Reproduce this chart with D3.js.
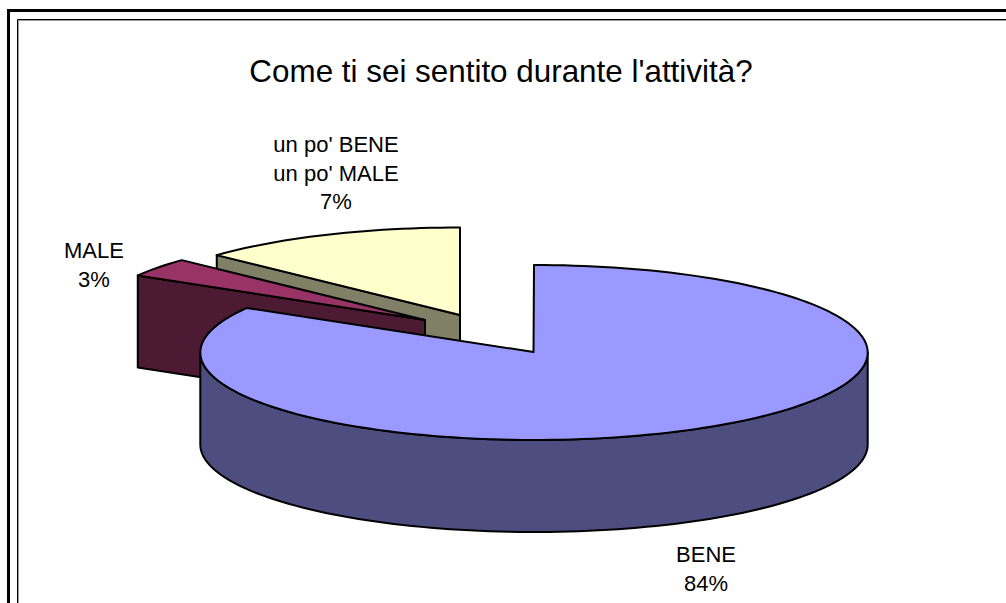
<!DOCTYPE html>
<html>
<head>
<meta charset="utf-8">
<script src="https://cdn.jsdelivr.net/npm/d3@7"></script>
<style>
  html, body { margin: 0; padding: 0; background: #fff; overflow: hidden; }
  svg { display: block; }
  text { font-family: "Liberation Sans", Arial, sans-serif; fill: #000; }
</style>
</head>
<body>
<svg id="svg" width="1006" height="603"></svg>
<script>
var title = "Come ti sei sentito durante l'attività?";
var categories = ["BENE", "MALE", "un po' BENE\nun po' MALE"];
var shares = [83.5, 3.5, 13];
var percentLabels = ["84%", "3%", "7%"];
var topColors = ["#9999ff", "#993366", "#ffffcc"];
var wallColors = ["#4d4d80", "#4d1a33", "#808066"];

var width = 1006, height = 603;
var rx = 333.7, ry = 87.5, depth = 92;

// where each slice's apex sits on the page (the two small ones are pulled out)
var apex = [{x: 533.5, y: 352}, {x: 425, y: 320}, {x: 460, y: 315}];
var rimCentre = [{x: 534, y: 352.5}, {x: 425, y: 320}, {x: 460, y: 315}];
var labelPos = [{x: 706, y: 562}, {x: 94, y: 258}, {x: 336, y: 152}];

var svg = d3.select("#svg");

// frame, open on the right and at the bottom
var frame = svg.append("g").attr("fill", "none");
frame.append("path")
  .attr("d", "M8.5," + height + "V10.5H" + width)
  .attr("stroke", "#000").attr("stroke-width", 3);
frame.append("path")
  .attr("d", "M18.5," + height + "V20.5H" + width)
  .attr("stroke", "#999").attr("stroke-width", 1);
frame.append("path")
  .attr("d", "M17.5," + height + "V19.5H" + width)
  .attr("stroke", "#000").attr("stroke-width", 1);

var arcs = d3.pie().sort(null).value(d => d)(shares);

var x = d3.scaleLinear().domain([-1, 1]);
var y = d3.scaleLinear().domain([-1, 1]);
var line = d3.line().x(d => d[0]).y(d => d[1]);

function rim(a, i) {
  x.range([rimCentre[i].x - rx, rimCentre[i].x + rx]);
  y.range([rimCentre[i].y + ry, rimCentre[i].y - ry]);
  return [x(Math.sin(a)), y(Math.cos(a))];
}

function rimPoints(a0, a1, i) {
  var n = Math.max(2, Math.ceil(Math.abs(a1 - a0) / 0.03));
  return d3.range(n + 1).map(k => rim(a0 + (a1 - a0) * k / n, i));
}

var down = p => [p[0], p[1] + depth];

// back to front: yellow slice, maroon slice, big blue slice
[2, 1, 0].forEach(function(i) {
  var d = arcs[i];
  var g = svg.append("g")
    .attr("stroke", "#000")
    .attr("stroke-width", 2)
    .attr("stroke-linejoin", "round");

  if (i === 0) {
    // outer wall, only the part facing us
    var front = rimPoints(Math.PI / 2, Math.PI * 3 / 2, i);
    g.append("path")
      .attr("d", line(front.concat(front.slice().reverse().map(down))) + "Z")
      .attr("fill", wallColors[i]);
  } else {
    // cut face from apex out to the rim
    var a = [apex[i].x, apex[i].y], b = rim(d.startAngle, i);
    g.append("path")
      .attr("d", line([a, b, down(b), down(a)]) + "Z")
      .attr("fill", wallColors[i]);
  }

  var top = rimPoints(d.startAngle, d.endAngle, i);
  top.push([apex[i].x, apex[i].y]);
  g.append("path")
    .attr("d", line(top) + "Z")
    .attr("fill", topColors[i]);
});

svg.append("text")
  .attr("x", 501).attr("y", 82)
  .attr("text-anchor", "middle")
  .attr("font-size", 31.4)
  .text(title);

categories.forEach(function(c, i) {
  var lines = c.split("\n").concat(percentLabels[i]);
  var t = svg.append("text")
    .attr("text-anchor", "middle")
    .attr("font-size", 22);
  lines.forEach(function(s, k) {
    t.append("tspan")
      .attr("x", labelPos[i].x)
      .attr("y", labelPos[i].y + k * 28.5)
      .text(s);
  });
});
</script>
</body>
</html>
